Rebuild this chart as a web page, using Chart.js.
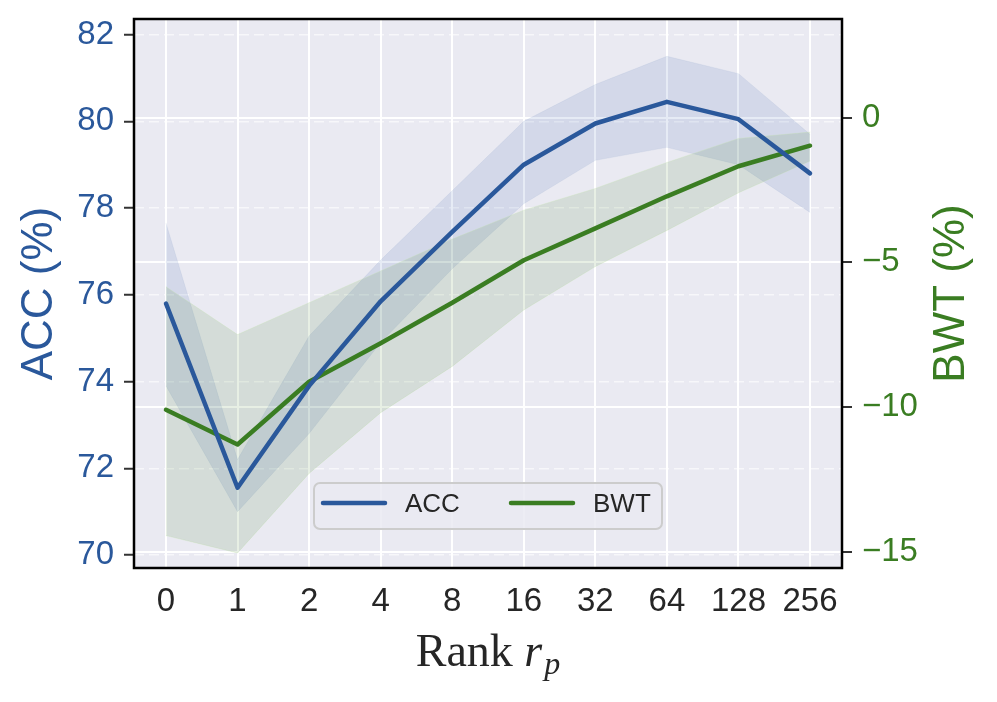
<!DOCTYPE html>
<html>
<head>
<meta charset="utf-8">
<script src="https://cdn.jsdelivr.net/npm/chart.js@4.4.1/dist/chart.umd.min.js"></script>
<style>
  html, body { margin: 0; padding: 0; background: #fff; }
  #wrap { width: 997px; height: 702px; }
</style>
</head>
<body>
<div id="wrap"><canvas id="chart"></canvas></div>
<script>
// ranks on the x axis
const ranks = ['0', '1', '2', '4', '8', '16', '32', '64', '128', '256'];

// ACC (%) mean and band
const accMean  = [75.8, 71.55, 73.9, 75.85, 77.45, 79.0, 79.95, 80.45, 80.05, 78.8];
const accUpper = [77.65, 72.2, 75.05, 76.8, 78.4, 80.0, 80.85, 81.5, 81.1, 79.7];
const accLower = [73.9, 71.0, 72.8, 74.9, 76.6, 78.1, 79.1, 79.4, 79.0, 77.9];

// BWT (%) mean and band
const bwtMean  = [-10.1, -11.3, -9.13, -7.8, -6.4, -4.93, -3.83, -2.72, -1.68, -0.97];
const bwtUpper = [-5.85, -7.5, -6.4, -5.3, -4.2, -3.2, -2.45, -1.55, -0.72, -0.5];
const bwtLower = [-14.45, -15.05, -12.3, -10.2, -8.6, -6.65, -5.15, -3.9, -2.6, -1.5];

const accTicks = [70, 72, 74, 76, 78, 80, 82];
const bwtTicks = [-15, -10, -5, 0];

const BLUE = '#2a589b';
const GREEN = '#3a7d22';
const SANS = '"Liberation Sans", Arial, sans-serif';
const SERIF = '"Liberation Serif", "DejaVu Serif", serif';

const pts = arr => arr.map((v, i) => ({ x: i, y: v }));

const frame = {
  id: 'frame',
  beforeDraw(chart) {
    const { ctx, chartArea: a } = chart;
    ctx.save();
    ctx.fillStyle = '#fff';
    ctx.fillRect(0, 0, chart.width, chart.height);
    ctx.fillStyle = '#eaeaf2';
    ctx.fillRect(a.left, a.top, a.right - a.left, a.bottom - a.top);
    ctx.restore();
  },
  afterDraw(chart) {
    const { ctx, chartArea: a } = chart;
    ctx.save();
    // spines
    ctx.strokeStyle = '#000';
    ctx.lineWidth = 2.5;
    ctx.strokeRect(a.left, a.top, a.right - a.left, a.bottom - a.top);

    // legend
    const lx = 314, ly = 483, lw = 348, lh = 46;
    ctx.beginPath();
    ctx.roundRect(lx, ly, lw, lh, 6);
    ctx.fillStyle = 'rgba(234,234,242,0.85)';
    ctx.fill();
    ctx.strokeStyle = '#cccccc';
    ctx.lineWidth = 2;
    ctx.stroke();
    const items = [chart.data.datasets[0], chart.data.datasets[1]];
    const starts = [323, 511];
    ctx.font = '26px ' + SANS;
    ctx.textBaseline = 'middle';
    ctx.lineCap = 'round';
    items.forEach((ds, i) => {
      ctx.strokeStyle = ds.borderColor;
      ctx.lineWidth = 4.5;
      ctx.beginPath();
      ctx.moveTo(starts[i], 503);
      ctx.lineTo(starts[i] + 62, 503);
      ctx.stroke();
      ctx.fillStyle = '#262626';
      ctx.fillText(ds.label, starts[i] + 82, 505);
    });

    // y axis titles
    const midY = (a.top + a.bottom) / 2;
    ctx.font = '44px ' + SANS;
    ctx.textAlign = 'center';
    ctx.textBaseline = 'middle';
    ctx.save();
    ctx.translate(40, midY);
    ctx.rotate(-Math.PI / 2);
    ctx.fillStyle = BLUE;
    ctx.fillText('ACC (%)', 0, 0);
    ctx.restore();
    ctx.save();
    ctx.translate(952, midY);
    ctx.rotate(-Math.PI / 2);
    ctx.fillStyle = GREEN;
    ctx.fillText('BWT (%)', 0, 0);
    ctx.restore();

    // x axis title: Rank r_p
    ctx.textAlign = 'left';
    ctx.textBaseline = 'alphabetic';
    ctx.fillStyle = '#262626';
    const f1 = '46px ' + SERIF, f2 = 'italic 46px ' + SERIF, f3 = 'italic 32px ' + SERIF;
    ctx.font = f1; const w1 = ctx.measureText('Rank ').width;
    ctx.font = f2; const w2 = ctx.measureText('r').width;
    ctx.font = f3; const w3 = ctx.measureText('p').width;
    let x = (a.left + a.right) / 2 - (w1 + w2 + 2 + w3) / 2;
    const base = 666;
    ctx.font = f1; ctx.fillText('Rank ', x, base); x += w1;
    ctx.font = f2; ctx.fillText('r', x, base); x += w2 + 2;
    ctx.font = f3; ctx.fillText('p', x, base + 8);
    ctx.restore();
  }
};

const noPad = s => { s.paddingTop = 0; s.paddingBottom = 0; };

new Chart(document.getElementById('chart'), {
  type: 'line',
  data: {
    datasets: [
      { label: 'ACC', data: pts(accMean), yAxisID: 'y', borderColor: BLUE, borderWidth: 4.5, pointRadius: 0, fill: false, order: 0 },
      { label: 'BWT', data: pts(bwtMean), yAxisID: 'y2', borderColor: GREEN, borderWidth: 4.5, pointRadius: 0, fill: false, order: 0 },
      { label: 'accUpper', data: pts(accUpper), yAxisID: 'y', borderColor: 'rgba(42,88,155,0.06)', borderWidth: 1, pointRadius: 0,
        backgroundColor: 'rgba(60,100,180,0.13)', fill: '+1', order: 2 },
      { label: 'accLower', data: pts(accLower), yAxisID: 'y', borderColor: 'rgba(42,88,155,0.06)', borderWidth: 1, pointRadius: 0, fill: false, order: 2 },
      { label: 'bwtUpper', data: pts(bwtUpper), yAxisID: 'y2', borderColor: 'rgba(200,230,180,0.3)', borderWidth: 1, pointRadius: 0,
        backgroundColor: 'rgba(58,125,34,0.12)', fill: '+1', order: 1 },
      { label: 'bwtLower', data: pts(bwtLower), yAxisID: 'y2', borderColor: 'rgba(200,230,180,0.3)', borderWidth: 1, pointRadius: 0, fill: false, order: 1 }
    ]
  },
  options: {
    responsive: true,
    maintainAspectRatio: false,
    devicePixelRatio: 1,
    animation: false,
    layout: { padding: { top: 19, left: 0, right: 0, bottom: 0 } },
    plugins: { legend: { display: false }, tooltip: { enabled: false } },
    elements: { line: { tension: 0, borderJoinStyle: 'round', borderCapStyle: 'round' } },
    scales: {
      x: {
        type: 'linear',
        min: -0.447,
        max: 9.447,
        afterBuildTicks: s => { s.ticks = ranks.map((r, i) => ({ value: i })); },
        afterFit: s => { s.height = 134; s.paddingLeft = 0; s.paddingRight = 0; },
        ticks: {
          callback: v => ranks[v],
          color: '#262626',
          font: { family: SANS, size: 33 },
          padding: 14,
          maxRotation: 0,
          autoSkip: false
        },
        grid: { color: '#ffffff', lineWidth: 2, drawTicks: false },
        border: { display: false }
      },
      y: {
        position: 'left',
        min: 69.7,
        max: 82.36,
        afterBuildTicks: s => { s.ticks = accTicks.map(v => ({ value: v })); },
        afterFit: s => { s.width = 134; noPad(s); },
        ticks: { color: BLUE, font: { family: SANS, size: 33 }, padding: 10 },
        grid: { color: 'rgba(255,255,255,0.6)', lineWidth: 1.5, tickColor: '#333', tickWidth: 2, tickLength: 10 },
        border: { display: false, dash: [10, 5] }
      },
      y2: {
        position: 'right',
        min: -15.57,
        max: 3.41,
        afterBuildTicks: s => { s.ticks = bwtTicks.map(v => ({ value: v })); },
        afterFit: s => { s.width = 155; noPad(s); },
        ticks: {
          color: GREEN,
          font: { family: SANS, size: 33 },
          padding: 10,
          callback: v => String(v).replace('-', '\u2212')
        },
        grid: { color: '#ffffff', lineWidth: 2, tickColor: '#333', tickWidth: 2, tickLength: 10 },
        border: { display: false }
      }
    }
  },
  plugins: [frame]
});
</script>
</body>
</html>
